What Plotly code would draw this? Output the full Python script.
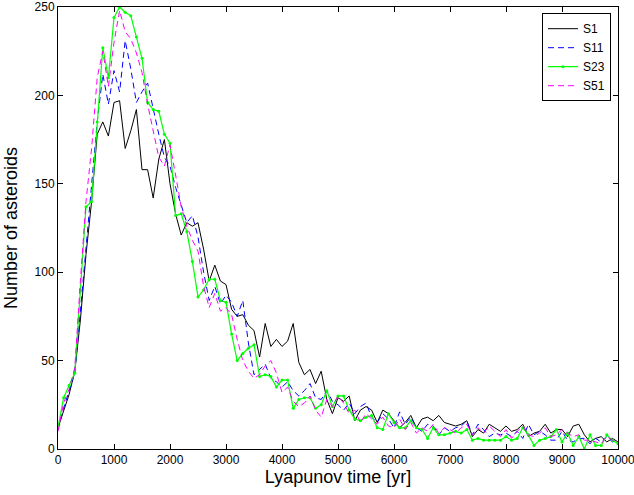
import plotly.graph_objects as go

lyap_time = list(range(0, 10001, 100))

s1 = [12, 21, 31, 44, 73, 110, 140, 178, 185, 177, 196, 197, 170, 180, 192, 158, 158, 142, 164, 175,
      150, 133, 121, 128, 126, 128, 113, 95, 104, 95, 93, 79, 75, 76, 70, 67, 52, 71, 58, 62,
      58, 61, 71, 49, 42, 45, 37, 44, 28, 20, 29, 27, 30, 16, 22, 24, 22, 15, 22, 20,
      16, 12, 15, 19, 12, 17, 18, 16, 19, 15, 14, 13, 14, 16, 7, 11, 9, 14, 12, 10,
      13, 10, 11, 14, 7, 9, 10, 14, 9, 11, 11, 7, 13, 14, 8, 4, 6, 7, 4, 6, 4]

s11 = [11, 23, 33, 43, 78, 115, 150, 185, 212, 195, 214, 202, 231, 215, 196, 202, 207, 192, 178, 165,
       160, 148, 138, 128, 132, 120, 100, 84, 92, 82, 87, 83, 75, 84, 60, 42, 45, 48, 40, 38,
       35, 38, 33, 30, 33, 37, 29, 28, 33, 27, 25, 22, 26, 20, 24, 26, 18, 15, 20, 17,
       12, 21, 14, 18, 12, 10, 14, 13, 8, 12, 10, 12, 13, 16, 8, 14, 11, 7, 9, 8,
       9, 7, 10, 6, 14, 8, 10, 8, 5, 5, 10, 5, 4, 6, 6, 3, 6, 4, 7, 4, 5]

s23 = [12, 29, 36, 43, 90, 137, 140, 185, 227, 210, 244, 250, 247, 245, 233, 221, 196, 192, 191, 178,
       173, 132, 133, 123, 106, 86, 90, 96, 96, 84, 83, 65, 50, 54, 57, 59, 41, 42, 41, 35,
       39, 39, 23, 28, 29, 29, 23, 25, 33, 24, 30, 30, 22, 17, 16, 18, 19, 12, 11, 20,
       15, 12, 12, 16, 12, 11, 6, 12, 8, 8, 9, 10, 9, 11, 5, 6, 5, 5, 5, 5,
       7, 5, 6, 12, 8, 2, 5, 6, 7, 11, 4, 9, 2, 7, 0, 8, 2, 2, 8, 5, 3]

s51 = [10, 26, 34, 46, 95, 140, 170, 210, 225, 205, 230, 248, 236, 232, 224, 213, 195, 180, 165, 160,
       172, 155, 137, 126, 118, 112, 92, 80, 88, 78, 80, 76, 62, 50, 44, 40, 42, 47, 50, 43,
       32, 35, 27, 24, 26, 30, 22, 18, 28, 24, 30, 26, 20, 22, 15, 20, 17, 14, 18, 13,
       12, 17, 11, 15, 9, 12, 10, 14, 9, 12, 11, 9, 12, 14, 8, 12, 9, 13, 10, 7,
       11, 6, 10, 13, 8, 7, 9, 12, 7, 8, 11, 9, 7, 8, 5, 5, 4, 3, 7, 5, 4]

x_ticks = list(range(0, 10001, 1000))
y_ticks = list(range(0, 251, 50))

FONT = "Liberation Sans, Arial, Helvetica, sans-serif"

fig = go.Figure()
fig.add_trace(go.Scatter(x=lyap_time, y=s1, name="S1", mode="lines",
                         line=dict(color="black", width=1)))
fig.add_trace(go.Scatter(x=lyap_time, y=s11, name="S11", mode="lines",
                         line=dict(color="#0000ff", width=1, dash="6px,4px")))
fig.add_trace(go.Scatter(x=lyap_time, y=s23, name="S23", mode="lines+markers",
                         line=dict(color="#00ff00", width=1.2),
                         marker=dict(color="#00ff00", size=3)))
fig.add_trace(go.Scatter(x=lyap_time, y=s51, name="S51", mode="lines",
                         line=dict(color="#ff00ff", width=1, dash="6px,4px")))

axis_common = dict(showline=True, linecolor="black", linewidth=1, mirror="ticks",
                   ticks="inside", ticklen=5, tickcolor="black", showgrid=False,
                   zeroline=False, automargin=True, ticklabeloverflow="allow",
                   tickfont=dict(family=FONT, size=12, color="black"))

fig.update_xaxes(range=[0, 10000], tickvals=x_ticks, ticktext=[str(v) for v in x_ticks],
                 title=dict(text="Lyapunov time [yr]", font=dict(family=FONT, size=18, color="black"),
                            standoff=3),
                 **axis_common)
fig.update_yaxes(range=[0, 250], tickvals=y_ticks, ticktext=[str(v) for v in y_ticks],
                 title=dict(text="Number of asteroids", font=dict(family=FONT, size=18, color="black"),
                            standoff=12),
                 **axis_common)

fig.update_layout(
    width=634, height=495,
    margin=dict(l=58, r=16, t=7, b=46, autoexpand=False),
    paper_bgcolor="white", plot_bgcolor="white",
    font=dict(family=FONT, size=12, color="black"),
    legend=dict(x=0.9875, y=0.986, xanchor="right", yanchor="top",
                bordercolor="black", borderwidth=1, bgcolor="white",
                font=dict(family=FONT, size=12, color="black"),
                tracegroupgap=0, itemwidth=30),
    showlegend=True,
)

fig.write_html("out.html", config={"displayModeBar": False},
               post_script="document.body.style.margin='0px';")
